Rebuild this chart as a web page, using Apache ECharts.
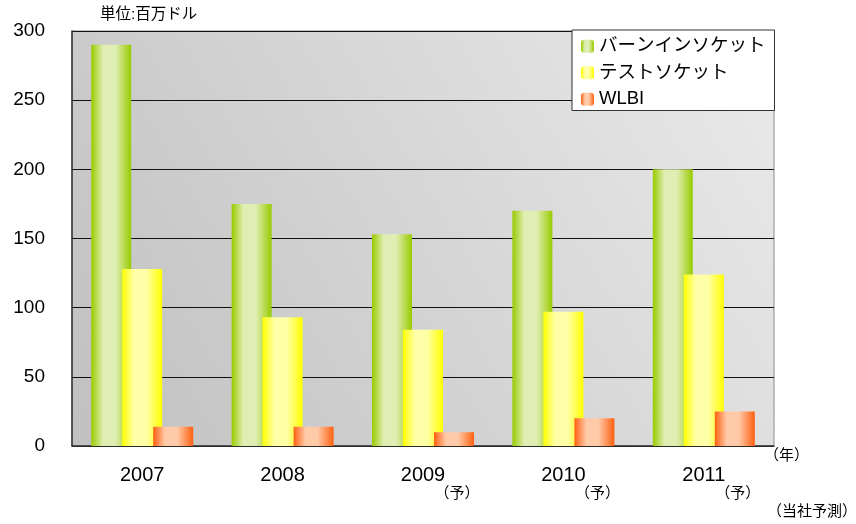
<!DOCTYPE html>
<html>
<head>
<meta charset="utf-8">
<script src="https://cdn.jsdelivr.net/npm/echarts@6/dist/echarts.min.js"></script>
<style>html,body{margin:0;padding:0;background:#fff}#c{width:856px;height:524px}</style>
</head>
<body>
<div id="c"></div>
<script>
var categories = ['2007', '2008', '2009', '2010', '2011'];
var forecast = [false, false, true, true, true];
var seriesNames = ['バーンインソケット', 'テストソケット', 'WLBI'];
var burnIn = [290, 175, 153, 170, 200];
var testSocket = [128, 93, 84, 97, 124];
var wlbi = [14, 14, 10, 20, 25];
var yTicks = [0, 50, 100, 150, 200, 250, 300];

var FONT = "'Liberation Sans', 'Noto Sans CJK JP', sans-serif";

function hGrad(edge, mid) {
  return new echarts.graphic.LinearGradient(0, 0, 1, 0, [
    {offset: 0, color: edge},
    {offset: 0.3, color: mid},
    {offset: 0.6, color: mid},
    {offset: 1, color: edge}
  ]);
}

var chart = echarts.init(document.getElementById('c'), null, {renderer: 'canvas'});
chart.setOption({
  animation: false,
  backgroundColor: '#ffffff',
  textStyle: {fontFamily: FONT},
  grid: {
    left: 72, right: 82, top: 31, bottom: 78,
    show: true,
    borderColor: '#8a8a8a',
    borderWidth: 1,
    backgroundColor: new echarts.graphic.LinearGradient(1, 0, 0, 1, [
      {offset: 0, color: '#eaeaea'},
      {offset: 1, color: '#c0c0c0'}
    ])
  },
  legend: {
    orient: 'vertical',
    left: 572, top: 30,
    backgroundColor: '#ffffff',
    borderColor: '#333',
    borderWidth: 1,
    padding: [7, 9, 2, 9],
    itemWidth: 13, itemHeight: 13, itemGap: 8,
    textStyle: {fontSize: 18.5, color: '#000', fontFamily: FONT},
    data: seriesNames
  },
  xAxis: {
    type: 'category',
    data: categories,
    axisLine: {lineStyle: {color: '#333', width: 1.5}},
    axisTick: {inside: true, length: 6, lineStyle: {color: '#333', width: 1.5}},
    axisLabel: {
      margin: 18,
      color: '#000',
      fontSize: 20,
      fontFamily: FONT,
      formatter: function (v, i) {
        return forecast[i] ? '{y|' + v + '}\n{p|（予）}' : '{y|' + v + '}';
      },
      rich: {
        y: {fontSize: 20, lineHeight: 22, fontFamily: FONT, color: '#000'},
        p: {fontSize: 15, lineHeight: 16, fontFamily: FONT, color: '#000', padding: [0, 0, 0, 68]}
      }
    }
  },
  yAxis: {
    type: 'value',
    min: 0, max: 300, interval: 50,
    axisLine: {show: true, lineStyle: {color: '#333', width: 1.5}},
    axisTick: {show: false},
    axisLabel: {
      margin: 27, color: '#000', fontSize: 19, fontFamily: FONT,
      formatter: function (v) { return yTicks.indexOf(v) >= 0 ? String(v) : ''; }
    },
    splitLine: {lineStyle: {color: '#111', width: 1.2}}
  },
  graphic: [
    {type: 'text', left: 100, top: 7, style: {text: '単位:百万ドル', fontSize: 15.5, fill: '#000', fontFamily: FONT}},
    {type: 'text', left: 764, top: 448, style: {text: '（年）', fontSize: 15, fill: '#000', fontFamily: FONT}},
    {type: 'text', left: 767, top: 504, style: {text: '（当社予測）', fontSize: 15, fill: '#000', fontFamily: FONT}}
  ],
  series: [
    {name: seriesNames[0], type: 'bar', data: burnIn, barWidth: 40, barGap: '-22.5%',
     itemStyle: {color: hGrad('#98cb00', '#e0eeb4')}},
    {name: seriesNames[1], type: 'bar', data: testSocket, barWidth: 40, barGap: '-22.5%',
     itemStyle: {color: hGrad('#ffff00', '#ffffa8')}},
    {name: seriesNames[2], type: 'bar', data: wlbi, barWidth: 40, barGap: '-22.5%',
     itemStyle: {color: hGrad('#ff6010', '#ffcaa8')}}
  ]
});
</script>
</body>
</html>
